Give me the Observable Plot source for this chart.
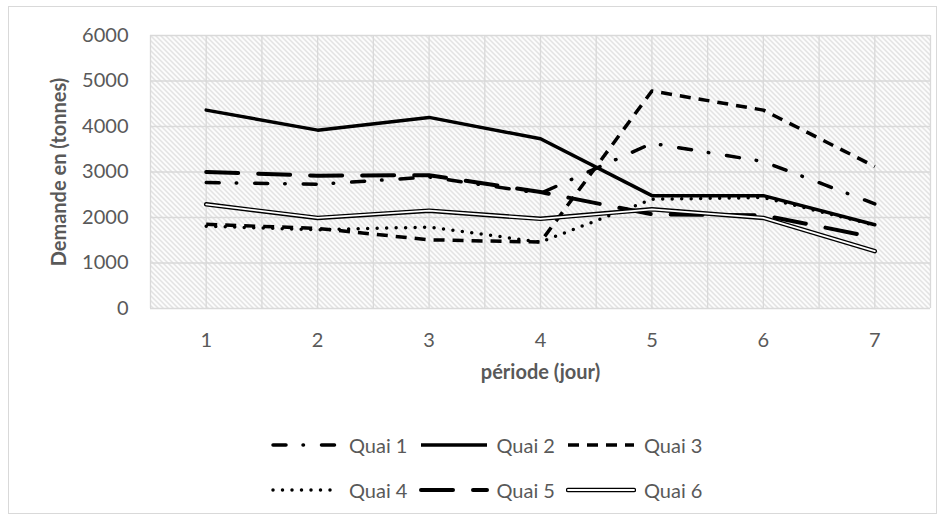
<!DOCTYPE html>
<html>
<head>
<meta charset="utf-8">
<script src="https://cdn.jsdelivr.net/npm/d3@7"></script>
<script src="https://cdn.jsdelivr.net/npm/@observablehq/plot@0.6"></script>
<style>
  html, body { margin: 0; padding: 0; background: #fff; }
  #wrap { position: relative; width: 945px; height: 520px; overflow: hidden; font-family: Lato, "Open Sans", sans-serif; }
  #border { position: absolute; left: 8px; top: 6px; width: 929px; height: 508px; border: 1px solid #d9d9d9; box-sizing: border-box; }
  #chart { position: absolute; left: 0; top: 0; }
  .item { position: absolute; display: flex; align-items: center; height: 24px; color: #595959; font-size: 20px; }
  .item span { margin-left: 8px; white-space: nowrap; }
</style>
</head>
<body>
<div id="wrap">
  <div id="border"></div>
  <div id="chart"></div>
  <div id="legend"></div>
</div>
<script>
// ---- data ----
const periods = [1, 2, 3, 4, 5, 6, 7];
const seriesNames = ["Quai 1", "Quai 2", "Quai 3", "Quai 4", "Quai 5", "Quai 6"];
const quai1 = [2770, 2730, 2890, 2530, 3630, 3230, 2300];
const quai2 = [4360, 3920, 4200, 3730, 2480, 2480, 1840];
const quai3 = [1850, 1760, 1510, 1460, 4780, 4360, 3120];
const quai4 = [1810, 1730, 1790, 1460, 2400, 2440, 1830];
const quai5 = [3000, 2920, 2930, 2560, 2070, 2050, 1560];
const quai6 = [2290, 1990, 2150, 1970, 2180, 1990, 1260];
const yTicks = [0, 1000, 2000, 3000, 4000, 5000, 6000];
const xTitle = "période (jour)";
const yTitle = "Demande en (tonnes)";

const seriesValues = [quai1, quai2, quai3, quai4, quai5, quai6];
const data = seriesNames.flatMap((s, i) =>
  periods.map((p, j) => ({ serie: s, periode: p, demande: seriesValues[i][j] }))
);

// ---- styles ----
const lineStyles = {
  "Quai 1": { strokeWidth: 3.5, strokeDasharray: "13,17,0.5,18", strokeLinecap: "round" },
  "Quai 2": { strokeWidth: 3.5 },
  "Quai 3": { strokeWidth: 3.5, strokeDasharray: "11,8", strokeLinecap: "butt" },
  "Quai 4": { strokeWidth: 3.5, strokeDasharray: "0,9.5", strokeLinecap: "round" },
  "Quai 5": { strokeWidth: 4, strokeDasharray: "32,20", strokeLinecap: "round" },
  "Quai 6": { double: true }
};

const lineMarks = seriesNames.flatMap(s => {
  const st = lineStyles[s];
  const sub = data.filter(d => d.serie === s);
  if (st.double) {
    return [
      Plot.line(sub, { x: "periode", y: "demande", stroke: "#000", strokeWidth: 4.5, strokeLinejoin: "round" }),
      Plot.line(sub, { x: "periode", y: "demande", stroke: "#fff", strokeWidth: 1.8, strokeLinejoin: "round" })
    ];
  }
  return [Plot.line(sub, { x: "periode", y: "demande", stroke: "#000", strokeLinejoin: "round", ...st })];
});

const chart = Plot.plot({
  width: 945,
  height: 400,
  marginLeft: 150,
  marginRight: 15,
  marginTop: 35,
  marginBottom: 92,
  style: { fontFamily: "Lato, 'Open Sans', sans-serif", fontSize: "20px", color: "#595959", background: "transparent", overflow: "visible" },
  x: { type: "linear", domain: [0.5, 7.5] },
  y: { domain: [0, 6000] },
  marks: [
    Plot.frame({ fill: "url(#hatch)", stroke: "none" }),
    Plot.gridX(d3.range(0.5, 7.51, 0.5), { stroke: "#d9d9d9", strokeOpacity: 1, strokeWidth: 1.3 }),
    Plot.gridY(yTicks, { stroke: "#d9d9d9", strokeOpacity: 1, strokeWidth: 1.3 }),
    Plot.axisX(periods, { tickSize: 0, tickPadding: 24, label: null, tickFormat: d => String(d), fontSize: 20 }),
    Plot.axisY(yTicks, { tickSize: 0, tickPadding: 22, label: null, tickFormat: d => String(d), fontSize: 20 }),
    ...lineMarks,
    Plot.text([xTitle], { frameAnchor: "bottom", dy: 70, textAnchor: "middle", fontWeight: "bold", fontSize: 20, fill: "#595959" }),
    Plot.text([yTitle], { frameAnchor: "left", dx: -91, rotate: -90, textAnchor: "middle", lineAnchor: "middle", fontWeight: "bold", fontSize: 20, fill: "#595959" })
  ]
});

// hatch pattern
const svgSel = d3.select(chart);
const defs = svgSel.insert("defs", ":first-child");
const pat = defs.append("pattern")
  .attr("id", "hatch")
  .attr("patternUnits", "userSpaceOnUse")
  .attr("width", 5).attr("height", 5);
pat.append("rect").attr("width", 5).attr("height", 5).attr("fill", "#fff");
pat.append("path")
  .attr("d", "M-1,-1L6,6M-1,4L1,6M4,-1L6,1")
  .attr("stroke", "#d2d2d2").attr("stroke-width", 1.1).attr("fill", "none");

document.getElementById("chart").appendChild(chart);

// ---- legend ----
const legend = document.getElementById("legend");
const legendLeft = 271, legendColStep = 147.5, legendRowTops = [433, 478];
seriesNames.forEach((s, i) => {
  const col = i % 3, row = Math.floor(i / 3);
  const st = lineStyles[s];
  const div = document.createElement("div");
  div.className = "item";
  div.style.left = (legendLeft + col * legendColStep) + "px";
  div.style.top = legendRowTops[row] + "px";
  const ns = "http://www.w3.org/2000/svg";
  const svg = document.createElementNS(ns, "svg");
  svg.setAttribute("width", 70);
  svg.setAttribute("height", 24);
  const mk = (attrs) => {
    const l = document.createElementNS(ns, "line");
    l.setAttribute("x1", 2); l.setAttribute("x2", 68);
    l.setAttribute("y1", 12); l.setAttribute("y2", 12);
    for (const k in attrs) l.setAttribute(k, attrs[k]);
    svg.appendChild(l);
  };
  if (st.double) {
    mk({ stroke: "#000", "stroke-width": 4.5, "stroke-linecap": "round" });
    mk({ stroke: "#fff", "stroke-width": 1.8, "stroke-linecap": "round" });
  } else {
    mk({
      stroke: "#000",
      "stroke-width": st.strokeWidth,
      "stroke-dasharray": st.strokeDasharray || "none",
      "stroke-linecap": st.strokeLinecap || "butt"
    });
  }
  div.appendChild(svg);
  const span = document.createElement("span");
  span.textContent = s;
  div.appendChild(span);
  legend.appendChild(div);
});
</script>
</body>
</html>
